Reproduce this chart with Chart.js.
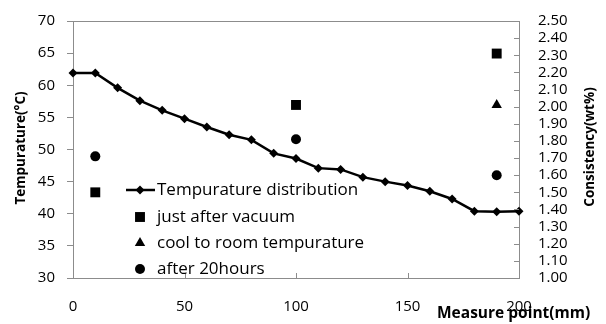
<!DOCTYPE html>
<html>
<head>
<meta charset="utf-8">
<script src="https://cdn.jsdelivr.net/npm/chart.js@4/dist/chart.umd.min.js"></script>
<style>
    html, body { margin: 0; padding: 0; background: #fff; }
    #wrap { width: 606px; height: 324px; }
</style>
</head>
<body>
<div id="wrap"><canvas id="myChart" width="606" height="324"></canvas></div>
<script>
// Datos
const positions = [0, 10, 20, 30, 40, 50, 60, 70, 80, 90, 100, 110, 120, 130, 140, 150, 160, 170, 180, 190, 200];
const temperature = [61.9, 61.9, 59.6, 57.6, 56.1, 54.8, 53.5, 52.3, 51.5, 49.4, 48.6, 47.1, 46.9, 45.7, 45.0, 44.4, 43.5, 42.3, 40.4, 40.3, 40.4];

const samplePositions = [10, 100, 190];
const justAfterVacuum = [1.50, 2.01, 2.31];
const coolToRoom = [null, null, 2.01];
const after20Hours = [1.71, 1.81, 1.60];

const seriesNames = ['Tempurature distribution', 'just after vacuum', 'cool to room tempurature', 'after 20hours'];
const leftTitle = 'Tempurature(\u00B0C)';
const rightTitle = 'Consistency(wt%)';
const xTitle = 'Measure point(mm)';

function toPoints(xs, ys) {
    return xs.map((x, i) => ({ x: x, y: ys[i] }));
}

const axisColor = '#8c8c8c';

// Marco, marcas interiores, titulos y leyenda
const overlay = {
    id: 'overlay',
    afterDraw(chart) {
        const c = chart.ctx;
        const a = chart.chartArea;
        const x = chart.scales.x;
        const y1 = chart.scales.y1;
        c.save();
        c.strokeStyle = axisColor;
        c.lineWidth = 1;
        c.beginPath();
        c.moveTo(a.left, a.top + 0.5);
        c.lineTo(a.right, a.top + 0.5);
        y1.ticks.forEach(t => {
            const py = Math.round(y1.getPixelForValue(t.value)) + 0.5;
            c.moveTo(a.right - 5, py);
            c.lineTo(a.right, py);
        });
        x.ticks.forEach(t => {
            const px = Math.round(x.getPixelForValue(t.value)) + 0.5;
            c.moveTo(px, a.bottom);
            c.lineTo(px, a.bottom - 5);
        });
        c.stroke();

        c.fillStyle = '#000';
        c.font = 'bold 13.5px "Open Sans"';
        c.textAlign = 'center';
        c.textBaseline = 'middle';
        c.save();
        c.translate(21, 148);
        c.rotate(-Math.PI / 2);
        c.fillText(leftTitle, 0, 0);
        c.restore();
        c.save();
        c.translate(590, 147);
        c.rotate(-Math.PI / 2);
        c.fillText(rightTitle, 0, 0);
        c.restore();
        c.textAlign = 'left';
        c.font = 'bold 15.5px "Open Sans"';
        c.fillText(xTitle, 437, 314);

        // Leyenda
        const rows = [190, 217, 243, 269];
        c.font = '17px "Open Sans"';
        chart.data.datasets.forEach((ds, i) => {
            const ry = rows[i];
            c.fillStyle = '#000';
            c.strokeStyle = '#000';
            if (ds.showLine) {
                c.lineWidth = 2.5;
                c.beginPath();
                c.moveTo(126, ry);
                c.lineTo(155, ry);
                c.stroke();
            }
            Chart.helpers.drawPoint(c, {
                pointStyle: ds.pointStyle,
                radius: ds.pointRadius,
                rotation: 0,
                borderWidth: 0
            }, 140, ry);
            c.fillText(seriesNames[i], 157, ry);
        });
        c.restore();
    }
};

document.addEventListener('DOMContentLoaded', function () {
    Chart.defaults.font.family = '"Open Sans"';
    Chart.defaults.color = '#000';
    const ctx = document.getElementById('myChart').getContext('2d');

    new Chart(ctx, {
        type: 'scatter',
        data: {
            datasets: [
                {
                    label: seriesNames[0],
                    data: toPoints(positions, temperature),
                    showLine: true,
                    borderColor: '#000',
                    borderWidth: 2.5,
                    pointStyle: 'rectRot',
                    pointRadius: 4.5,
                    pointBackgroundColor: '#000',
                    pointBorderWidth: 0,
                    yAxisID: 'y',
                    clip: false
                },
                {
                    label: seriesNames[1],
                    data: toPoints(samplePositions, justAfterVacuum),
                    showLine: false,
                    pointStyle: 'rect',
                    pointRadius: 7,
                    pointBackgroundColor: '#000',
                    pointBorderWidth: 0,
                    yAxisID: 'y1'
                },
                {
                    label: seriesNames[2],
                    data: toPoints(samplePositions, coolToRoom),
                    showLine: false,
                    pointStyle: 'triangle',
                    pointRadius: 6,
                    pointBackgroundColor: '#000',
                    pointBorderWidth: 0,
                    yAxisID: 'y1'
                },
                {
                    label: seriesNames[3],
                    data: toPoints(samplePositions, after20Hours),
                    showLine: false,
                    pointStyle: 'circle',
                    pointRadius: 5,
                    pointBackgroundColor: '#000',
                    pointBorderWidth: 0,
                    yAxisID: 'y1'
                }
            ]
        },
        options: {
            responsive: false,
            animation: false,
            layout: { padding: { top: 16, left: 0, right: 0, bottom: 0 } },
            scales: {
                x: {
                    type: 'linear',
                    min: 0,
                    max: 200,
                    ticks: { stepSize: 50, padding: 12, font: { size: 15 } },
                    grid: { display: false },
                    border: { display: true, color: axisColor },
                    afterFit: function (scale) { scale.height = 46; }
                },
                y: {
                    position: 'left',
                    min: 30,
                    max: 70,
                    ticks: { stepSize: 5, padding: 12, font: { size: 15 } },
                    grid: { drawOnChartArea: false, drawTicks: true, tickLength: 6, color: axisColor },
                    border: { display: true, color: axisColor },
                    afterFit: function (scale) { scale.width = 73; }
                },
                y1: {
                    position: 'right',
                    min: 1.0,
                    max: 2.5,
                    ticks: {
                        stepSize: 0.1,
                        autoSkip: false,
                        padding: 11,
                        font: { size: 15 },
                        callback: function (value) { return value.toFixed(2); }
                    },
                    grid: { display: false },
                    border: { display: true, color: axisColor },
                    afterFit: function (scale) { scale.width = 87; }
                }
            },
            plugins: {
                legend: { display: false },
                tooltip: { enabled: false }
            }
        },
        plugins: [overlay]
    });
});
</script>
</body>
</html>
